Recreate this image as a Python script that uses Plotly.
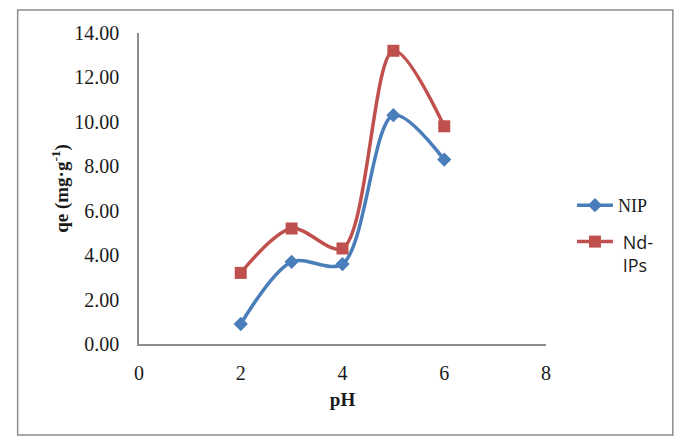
import plotly.graph_objects as go

ph = [2, 3, 4, 5, 6]
nip = [0.9, 3.7, 3.6, 10.3, 8.3]
nd_ips = [3.2, 5.2, 4.3, 13.2, 9.8]
x_ticks = [0, 2, 4, 6, 8]
y_ticks = [0, 2, 4, 6, 8, 10, 12, 14]

L, R, T, B = 138.5, 546, 33, 344
W, H = 681, 445
SERIF = "Times New Roman, Liberation Serif, serif"

fig = go.Figure()
fig.add_trace(go.Scatter(
    x=ph, y=nip, name="NIP", mode="lines+markers", legendgroup="g1",
    line=dict(color="#4A7EBB", width=3.5, shape="spline", smoothing=0.9),
    marker=dict(symbol="diamond", size=11, color="#4A7EBB"),
))
fig.add_trace(go.Scatter(
    x=ph, y=nd_ips, legendgroup="g2",
    name="<span style='font-family:Open Sans'> Nd-<br> IPs</span>",
    mode="lines+markers",
    line=dict(color="#C0504D", width=3.5, shape="spline", smoothing=0.9),
    marker=dict(symbol="square", size=12, color="#C0504D"),
))

def px2paper_x(px):
    return (px - L) / (R - L)

def px2paper_y(py):
    return (B - py) / (B - T)

fig.add_shape(type="rect", xref="paper", yref="paper",
              x0=px2paper_x(17), x1=px2paper_x(673),
              y0=px2paper_y(435), y1=px2paper_y(10),
              line=dict(color="#8c8c8c", width=1.5), fillcolor="rgba(0,0,0,0)",
              layer="below")

fig.update_layout(
    width=W, height=H,
    margin=dict(l=L, r=W - R, t=T, b=H - B),
    paper_bgcolor="white", plot_bgcolor="white",
    font=dict(family=SERIF, size=20, color="#1a1a1a"),
    showlegend=True,
    legend=dict(x=px2paper_x(572), y=px2paper_y(187), xanchor="left", yanchor="top",
                font=dict(family=SERIF, size=18, color="#1a1a1a"),
                tracegroupgap=10, valign="top", itemwidth=36,
                traceorder="grouped", bgcolor="rgba(0,0,0,0)"),
    xaxis=dict(range=[0, 8], tickvals=x_ticks, ticktext=[str(v) for v in x_ticks],
               showgrid=False, zeroline=False, showline=True, linecolor="#8c8c8c",
               linewidth=1.5, ticks="", ticklen=0, ticklabelstandoff=10,
               title=dict(text="<b>pH</b>", font=dict(size=19), standoff=10),
               tickfont=dict(size=20)),
    yaxis=dict(range=[0, 14], tickvals=y_ticks, ticktext=[f"{v:.2f}" for v in y_ticks],
               showgrid=False, zeroline=False, showline=True, linecolor="#8c8c8c",
               linewidth=1.5, ticks="", ticklen=0, ticklabelstandoff=14,
               title=dict(text="<b>qe (mg·g<sup>-1</sup>)</b>", font=dict(size=19), standoff=1),
               tickfont=dict(size=20)),
)

fig.write_html("out.html")
